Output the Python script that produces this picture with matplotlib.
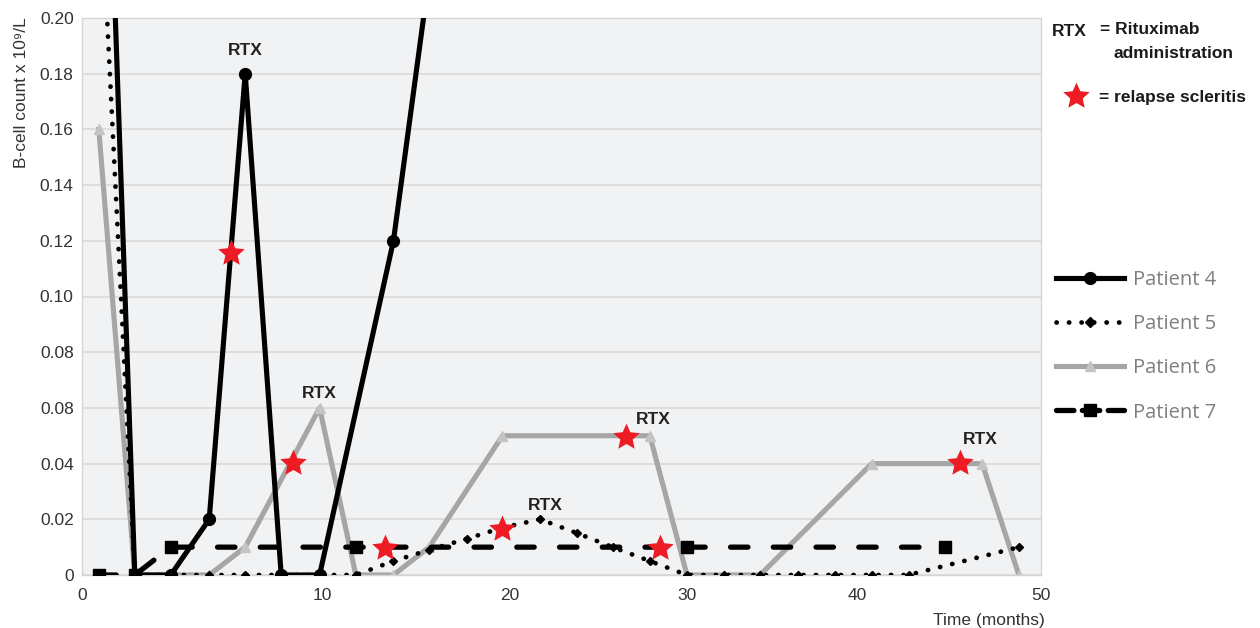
import numpy as np
import matplotlib
matplotlib.use("Agg")
import matplotlib.pyplot as plt
from matplotlib.lines import Line2D
from matplotlib.path import Path

# ---------------- data ----------------
x_ticks = [0, 10, 20, 30, 40, 50]
x_tick_labels = ["0", "10", "20", "30", "40", "50"]
y_ticks = [0, 0.02, 0.04, 0.06, 0.08, 0.10, 0.12, 0.14, 0.16, 0.18, 0.20]
y_tick_labels = ["0", "0.02", "0.04", "0.08", "0.08", "0.10", "0.12", "0.14", "0.16", "0.18", "0.20"]

p4_t = [0.7, 2.2, 3.7, 5.3, 6.8, 8.3, 9.9, 13.8, 15.7]
p4_v = [0.37, 0, 0, 0.02, 0.18, 0, 0, 0.12, 0.215]

p5_t = [0.7, 2.2, 3.7, 5.3, 6.8, 8.3, 9.9, 11.8, 13.8, 15.7, 17.7, 19.6, 21.7, 23.8,
        25.8, 27.9, 30.0, 32.2, 34.3, 36.5, 38.7, 40.8, 42.8, 48.8]
p5_v = [0.26, 0, 0, 0, 0, 0, 0, 0, 0.005, 0.009, 0.013, 0.017, 0.02, 0.015,
        0.010, 0.005, 0, 0, 0, 0, 0, 0, 0, 0.01]

p6_t = [0.7, 2.2, 3.7, 5.3, 6.8, 9.9, 11.8, 13.8, 15.7, 19.6, 27.9, 30.0, 32.2, 34.3,
        40.8, 46.8, 48.8]
p6_v = [0.16, 0, 0, 0, 0.01, 0.06, 0, 0, 0.01, 0.05, 0.05, 0, 0, 0, 0.04, 0.04, 0]

p7_t = [0.7, 2.2, 3.7, 11.8, 30.0, 44.8]
p7_v = [0, 0, 0.01, 0.01, 0.01, 0.01]

relapse_t = [6.2, 8.8, 13.35, 19.6, 26.55, 28.5, 45.6]
relapse_v = [0.1156, 0.0402, 0.0097, 0.0165, 0.0496, 0.0097, 0.0402]

rtx_t = [6.8, 9.9, 22.0, 28.1, 46.7]
rtx_v = [0.1885, 0.0653, 0.0251, 0.0557, 0.0485]

labels = ["Patient 4", "Patient 5", "Patient 6", "Patient 7"]

# ---------------- layout helpers ----------------
W, H = 1260, 628
# irregular x axis of the original: label positions (px from the left of the plot)
KNOT_PX = [0, 240, 428, 605, 775, 959]


def _pw(x, xs, ys):
    x = np.asarray(x, dtype=float)
    y = np.interp(x, xs, ys)
    y = np.where(x < xs[0], ys[0] + (x - xs[0]) * (ys[1] - ys[0]) / (xs[1] - xs[0]), y)
    y = np.where(x > xs[-1], ys[-1] + (x - xs[-1]) * (ys[-1] - ys[-2]) / (xs[-1] - xs[-2]), y)
    return y


def fwd(x):
    return _pw(x, x_ticks, KNOT_PX)


def inv(p):
    return _pw(p, KNOT_PX, x_ticks)


star = Path.unit_regular_star(5, 0.47)
RED = "#ed1c24"
GRAY = "#a6a6a6"
TXT = "#333333"
SANS = ["Liberation Sans", "DejaVu Sans"]

fig = plt.figure(figsize=(W / 100, H / 100), dpi=100)
ax = fig.add_axes([82 / W, 1 - 575 / H, (1041 - 82) / W, (575 - 18) / H])
ax.set_facecolor("#f1f2f4")
ax.set_xscale("function", functions=(fwd, inv))

lw = 3.7
ax.plot(p4_t, p4_v, color="black", lw=lw, marker="o", ms=8.5, zorder=4,
        solid_capstyle="round")
l5, = ax.plot(p5_t, p5_v, color="black", lw=3.4, marker="D", ms=4.5, zorder=3,
              dash_capstyle="round")
l5.set_dashes([0.05, 2.6])
ax.plot(p6_t, p6_v, color=GRAY, lw=lw, marker="^", ms=7, mfc="#c4c4c4", mec="#c4c4c4",
        zorder=2)
l7, = ax.plot(p7_t, p7_v, color="black", lw=3.8, marker="s", ms=8, zorder=5,
              dash_capstyle="round")
l7.set_dashes([3.3, 4.8])

ax.plot(relapse_t, relapse_v, linestyle="none", marker=star, ms=20, color=RED,
        mec="none", zorder=6)
for t, v in zip(rtx_t, rtx_v):
    ax.text(t, v, "RTX", ha="center", va="center", fontsize=12.5, fontweight="bold",
            family=SANS, color="#222222", zorder=7)

ax.set_xlim(0, 50)
ax.set_ylim(0, 0.2)
ax.set_xticks(x_ticks)
ax.set_xticklabels(x_tick_labels, family=SANS, fontsize=12.5, color=TXT)
ax.set_yticks(y_ticks)
ax.set_yticklabels(y_tick_labels, family=SANS, fontsize=12.5, color=TXT)
ax.xaxis.set_minor_locator(matplotlib.ticker.NullLocator())
ax.tick_params(axis="both", length=0)
ax.tick_params(axis="y", pad=6)
ax.tick_params(axis="x", pad=9)
ax.yaxis.grid(True, color="#d9d9d9", lw=1.2)
ax.xaxis.grid(False)
ax.set_axisbelow(True)
for s in ax.spines.values():
    s.set_color("#d4d4d4")
    s.set_linewidth(1.0)

fig.text(22 / W, 1 - 93 / H, "B-cell count x 10\u2079/L", rotation=90, ha="center",
         va="center", fontsize=12.5, family=SANS, color=TXT)
fig.text(1045 / W, 1 - 620 / H, "Time (months)", ha="right", va="center",
         fontsize=12.5, family=SANS, color=TXT)

# top-right key
fig.text(1052 / W, 1 - 32 / H, "RTX", ha="left", va="center", fontsize=12.5,
         fontweight="bold", family=SANS, color="#1a1a1a")
fig.text(1100 / W, 1 - 30 / H, "= Rituximab", ha="left", va="center", fontsize=12.5,
         fontweight="bold", family=SANS, color="#1a1a1a")
fig.text(1113 / W, 1 - 53 / H, "administration", ha="left", va="center", fontsize=12.5,
         fontweight="bold", family=SANS, color="#1a1a1a")
star_handle = Line2D([], [], linestyle="none", marker=star, ms=20, color=RED, mec="none")
fig.legend([star_handle], ["= relapse scleritis"], loc="center left",
           bbox_to_anchor=(1066 / W, 1 - 97 / H), bbox_transform=fig.transFigure,
           frameon=False, borderpad=0, borderaxespad=0, handlelength=1.2,
           handletextpad=0.7, prop={"family": SANS, "size": 12.5, "weight": "bold"},
           labelcolor="#1a1a1a")

# patients legend
h4 = Line2D([], [], color="black", lw=lw, marker="o", ms=8.5)
h5 = Line2D([], [], color="black", lw=3.4, marker="D", ms=5, dash_capstyle="round")
h5.set_dashes([0.05, 2.6])
h6 = Line2D([], [], color=GRAY, lw=lw, marker="^", ms=7, mfc="#c4c4c4", mec="#c4c4c4")
h7 = Line2D([], [], color="black", lw=3.8, marker="s", ms=8, dash_capstyle="round")
h7.set_dashes([3.3, 1.6])
ax.legend([h4, h5, h6, h7], labels, loc="upper left",
          bbox_to_anchor=(1056 / W, 1 - 270 / H), bbox_transform=fig.transFigure,
          frameon=False, borderpad=0, borderaxespad=0, handlelength=3.4,
          handletextpad=0.4, labelspacing=1.2,
          prop={"family": ["Open Sans", "DejaVu Sans"], "size": 14.5}, labelcolor="#7f7f7f")

fig.savefig("out.png", dpi=100, facecolor="white")
